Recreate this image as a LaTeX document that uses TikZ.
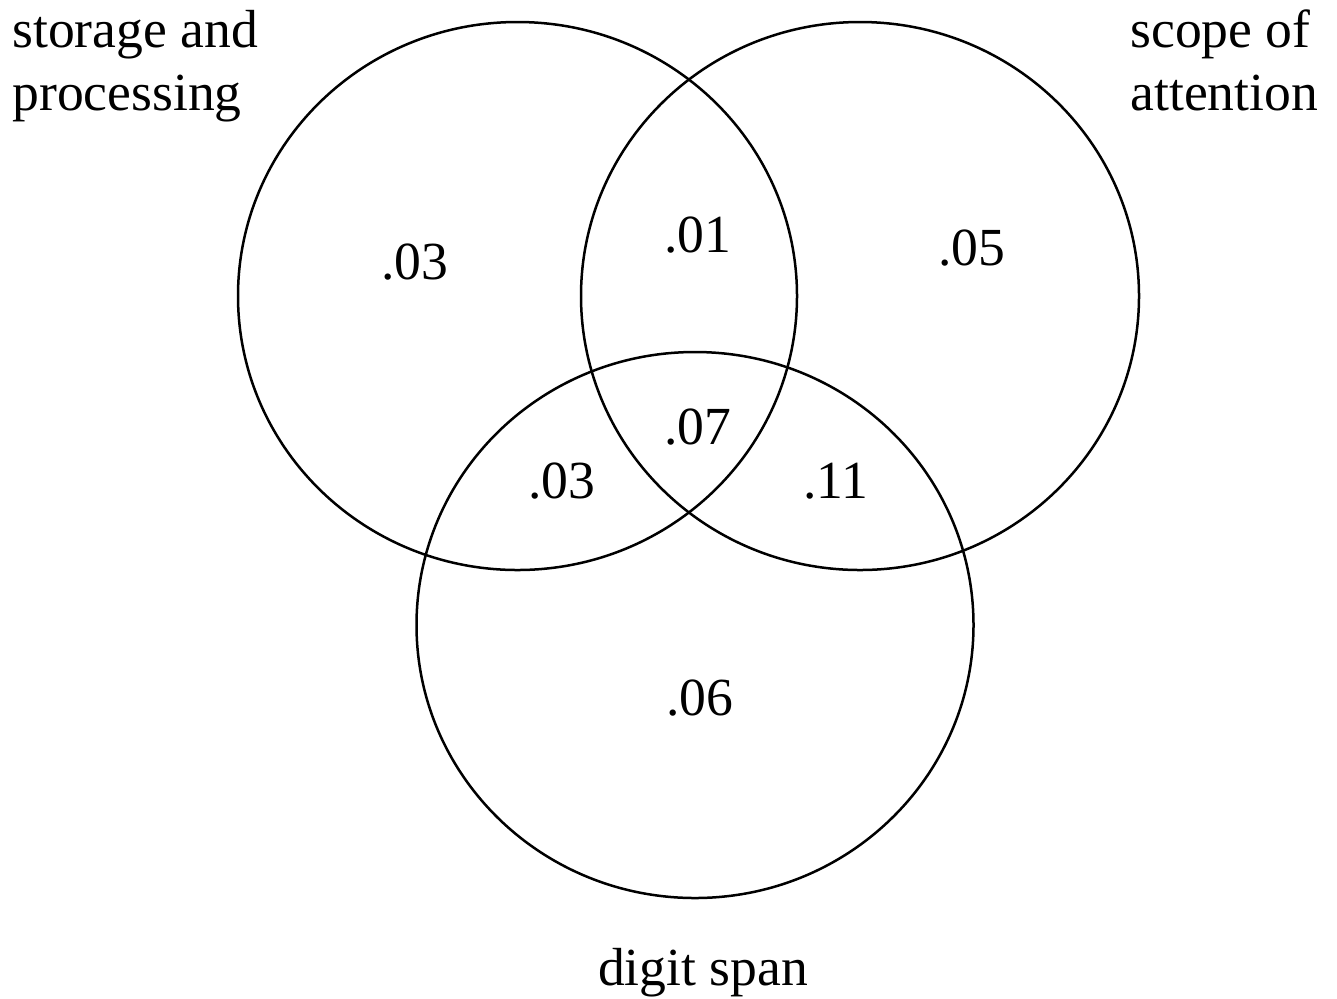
\documentclass[tikz,border=0pt]{standalone}
\usepackage{fontspec}
\setmainfont{Liberation Serif}
\begin{document}
\begin{tikzpicture}[x=0.5pt,y=-0.5pt,
  ring/.style={line width=1.25pt},
  lbl/.style={inner sep=0pt,font=\fontsize{26.8}{31.5}\selectfont},
  num/.style={inner sep=0pt,font=\fontsize{26.8}{31.5}\selectfont}]
\useasboundingbox (0,0) rectangle (1337,998);
\coordinate (c1) at (517.5,296);
\coordinate (c2) at (860,296);
\coordinate (c3) at (695,625);
\draw[ring] (c1) ellipse [x radius=139.75pt, y radius=137pt];
\draw[ring] (c2) ellipse [x radius=139.5pt, y radius=137pt];
\draw[ring] (c3) ellipse [x radius=139.25pt, y radius=136.5pt];
\node[lbl,anchor=base west] (t1a) at (12,47) {storage and};
\node[lbl,anchor=base west] (t1b) at (12,110) {processing};
\node[lbl,anchor=base west] (t2a) at (1130,47) {scope of};
\node[lbl,anchor=base west] (t2b) at (1130,110) {attention};
\node[lbl,anchor=base] (t3) at (703,985) {digit span};
\node[num] (n1) at (415,262) {.03};
\node[num] (n2) at (698,235) {.01};
\node[num] (n3) at (972,248) {.05};
\node[num] (n4) at (698,427) {.07};
\node[num] (n5) at (562,481) {.03};
\node[num] (n6) at (836,481) {.11};
\node[num] (n7) at (700,698) {.06};
\end{tikzpicture}
\end{document}
